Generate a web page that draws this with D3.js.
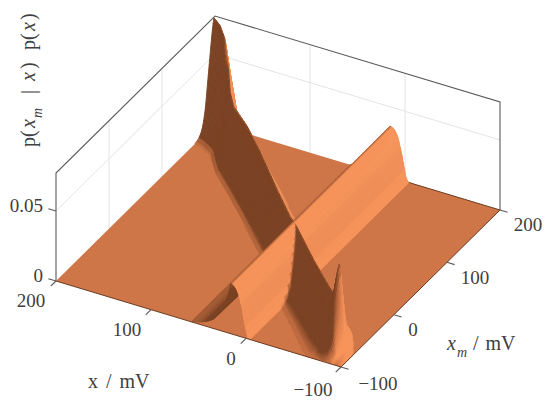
<!DOCTYPE html>
<html><head><meta charset="utf-8">
<script src="https://cdnjs.cloudflare.com/ajax/libs/d3/7.8.5/d3.min.js"></script>
<style>html,body{margin:0;background:#fff}svg{display:block}text{font-family:"Liberation Serif","DejaVu Serif",serif;fill:#404040}</style>
</head><body><svg id="c" width="550" height="403"></svg>
<script>
// axis ticks
const xTicks=[-100,0,100,200], xmTicks=[-100,0,100,200], zTicks=[0,0.05];
const xDomain=[-100,200], xmDomain=[-100,200], zDomain=[0,0.0771];
// constant-x ridge: profile across x
const stripeX=[-4,-3,-1,1,3,6,8,10,12,14,15.5,17,19,22,25,28,32,35,40,45,50,58];
const stripeZ=[0,0,.0032,.0095,.017,.0262,.0305,.0335,.0352,.036,.0362,.032,.0257,.0193,.0153,.0118,.0086,.0064,.0043,.0026,.0014,0];
// diagonal ridge: crest position, height and widths along x
const ridgeX =[-100,-92,-86,-80,-75,-70,-65,-57,-25,15,25,58,100,130,158,170,178,185,192,200];
const ridgeXm=[-84,-76,-70,-63,-58,-54,-50,-43,-16,18,29,64,105,134,160,175,186,191,195,198];
const ridgeZ =[0,.002,.014,.036,.054,.036,.027,.026,.029,.036,.033,.032,.037,.038,.036,.038,.05,.068,.074,.0765];
const ridgeLo=[13,13,13,13,13,14,15,15,13,11,10,10,9.5,9.5,9.5,9.5,9.5,9.5,9.5,9.5];
const ridgeHi=[5,5,5,5,5,5,6,7,8,8,8,9,9.5,9.5,9.5,9.5,9.5,9.5,9.5,9.5];
// ridge cross-section, offset in widths and relative height
const crossOff=[0,.25,.5,.75,1,1.25,1.5,1.75,2,2.25,2.5,2.75,3,3.5,4];
const crossVal=[1,.93,.82,.7,.58,.46,.33,.22,.145,.09,.055,.032,.017,.004,0];
const floorColor="#cf7648", darkColor="#7b4325", lightColor="#f6945b";

const svg=d3.select("#c");
const defs=svg.append("defs");
defs.append("filter").attr("id","soft").attr("x","-5%").attr("y","-5%").attr("width","110%").attr("height","110%")
 .append("feGaussianBlur").attr("stdDeviation",.5);
const corner={front:[341,367],left:[56,281],right:[500,210]};
const uS=d3.scaleLinear().domain(xDomain).range([0,1]);
const vS=d3.scaleLinear().domain(xmDomain).range([0,1]);
const zS=d3.scaleLinear().domain(zDomain).range([0,108]);
function P(x,xm,z=0){const u=uS(x),v=vS(xm);
 return [corner.front[0]+u*(corner.left[0]-corner.front[0])+v*(corner.right[0]-corner.front[0]),
         corner.front[1]+u*(corner.left[1]-corner.front[1])+v*(corner.right[1]-corner.front[1])-zS(z)];}
const stripe=d3.scaleLinear().domain(stripeX).range(stripeZ).clamp(true);
const rXm=d3.scaleLinear().domain(ridgeX).range(ridgeXm);
const rZ=d3.scaleLinear().domain(ridgeX).range(ridgeZ);
const rLo=d3.scaleLinear().domain(ridgeX).range(ridgeLo);
const rHi=d3.scaleLinear().domain(ridgeX).range(ridgeHi);
const cross=d3.scaleLinear().domain(crossOff).range(crossVal).clamp(true);
function Z(x,xm){const o=xm-rXm(x);
 return Math.max(stripe(x),rZ(x)*cross(Math.abs(o)/(o<0?rLo(x):rHi(x))));}

// walls and grid
const grid=[];
xTicks.slice(1,3).forEach(t=>grid.push([P(t,200,0),P(t,200,zDomain[1])]));
xmTicks.slice(1,3).forEach(t=>grid.push([P(200,t,0),P(200,t,zDomain[1])]));
grid.push([P(200,-100,.05),P(200,200,.05)],[P(200,200,.05),P(-100,200,.05)]);
svg.selectAll(".grid").data(grid).join("line").attr("class","grid")
 .attr("x1",d=>d[0][0]).attr("y1",d=>d[0][1]).attr("x2",d=>d[1][0]).attr("y2",d=>d[1][1])
 .attr("stroke","#e4e4e4").attr("stroke-width",1);
const box=[P(200,-100,0),P(200,-100,zDomain[1]),P(200,200,zDomain[1]),P(-100,200,zDomain[1]),P(-100,200,0)];
svg.append("path").attr("d",d3.line()(box)).attr("fill","none").attr("stroke","#5a5a5a").attr("stroke-width",1.1);

// floor
svg.append("path").attr("d",d3.line()([P(200,200),P(200,-100),P(-100,-100),P(-100,200)])+"Z").attr("fill",floorColor);

// surface: rows follow the diagonal ridge, painted back to front
const step=1.5, rowStep=1.5;
const gx=d3.range(200,-100-1e-6,-step), rows=d3.range(300,-300-1e-6,-rowStep);
const clampM=m=>Math.max(-100,Math.min(200,m));
const L=[-.72,.25,.645], K=2, slope=300/zDomain[1]/K;
const shade=d3.scaleLinear().domain([.12,.645,.84]).range([darkColor,floorColor,lightColor]).clamp(true);
function tone(dzdx,dzdm){const zu=dzdx*slope, zv=dzdm*slope;
 return Math.max(0,(-zu*L[0]-zv*L[1]+L[2])/Math.hypot(zu,zv,1));}
const cells=[], toneAt=new Map();
for(let i=0;i<gx.length-1;i++){
 const a=gx[i],b=gx[i+1],ca=rXm(a),cb=rXm(b);
 for(let j=0;j<rows.length-1;j++){
  const mA=clampM(ca+rows[j]),mB=clampM(ca+rows[j+1]),mC=clampM(cb+rows[j+1]),mD=clampM(cb+rows[j]);
  if(mA===mB&&mC===mD)continue;
  const zA=Z(a,mA),zB=Z(a,mB),zC=Z(b,mC),zD=Z(b,mD);
  if(Math.max(zA,zB,zC,zD)<2e-4)continue;
  const dm=((mA-mB)+(mD-mC))/2||1;
  const dzdm=((zA-zB)+(zD-zC))/2/dm;
  const dzdx=(((zA-zD)+(zB-zC))/2-dzdm*((mA-mD)+(mB-mC))/2)/step;
  const t=tone(dzdx,dzdm);
  toneAt.set(i*2000+j,t);
  cells.push({i,j,p:[P(a,mA,zA),P(a,mB,zB),P(b,mC,zC),P(b,mD,zD)],t});
 }
}
// even out the shade along each row
cells.forEach(c=>{const n=[c.i-1,c.i,c.i+1].map(k=>toneAt.get(k*2000+c.j)).filter(v=>v!==undefined);c.s=d3.mean(n);});
svg.append("g").attr("filter","url(#soft)").selectAll("path").data(cells).join("path")
 .attr("d",d=>d3.line()(d.p)+"Z").attr("fill",d=>shade(d.s)).attr("stroke",d=>shade(d.s)).attr("stroke-width",.9).attr("stroke-linejoin","round");

// dark edges of the sheet
const edge=(pts)=>svg.append("path").attr("d",d3.line()(pts)).attr("fill","none").attr("stroke","#6b3a20").attr("stroke-width",1);
edge([P(200,-100),P(-100,-100)]);
edge([P(-100,-100),P(-100,200)]);
edge([P(-4,200),P(-100,200)]);

// ticks
const ticks=[];
xTicks.forEach(t=>ticks.push([P(t,-100),P(t,-110)]));
xmTicks.forEach(t=>ticks.push([P(-100,t),P(-108,t)]));
zTicks.forEach(t=>ticks.push([P(200,-100,t),P(208,-100,t)]));
svg.selectAll(".tick").data(ticks).join("line").attr("class","tick")
 .attr("x1",d=>d[0][0]).attr("y1",d=>d[0][1]).attr("x2",d=>d[1][0]).attr("y2",d=>d[1][1])
 .attr("stroke","#5a5a5a").attr("stroke-width",1.1);

// labels
const fs=19;
const lab=(s,x,y,anchor="middle")=>svg.append("text").attr("x",x).attr("y",y).attr("text-anchor",anchor).attr("font-size",fs).text(s);
const fmt=t=>t<0?"\u2212"+(-t):String(t);
const xTickPos=[[313,396],[231,365],[127,336],[31,307]], xmTickPos=[[378,390],[413,336],[475,284],[528,231]];
xTicks.forEach((t,i)=>lab(fmt(t),xTickPos[i][0],xTickPos[i][1]));
xmTicks.forEach((t,i)=>lab(fmt(t),xmTickPos[i][0],xmTickPos[i][1]));
lab("0.05",43,212,"end");lab("0",43,282,"end");
svg.append("text").attr("x",88).attr("y",388).attr("font-size",20).attr("word-spacing",3).text("x / mV");
const xl=svg.append("text").attr("y",350).attr("font-size",20);
xl.append("tspan").attr("x",447).attr("font-style","italic").text("x");
xl.append("tspan").attr("x",457).attr("font-style","italic").attr("dy",7).attr("font-size",14).text("m");
xl.append("tspan").attr("x",473).attr("dy",-7).attr("word-spacing",2).text("/ mV");
const yl=svg.append("text").attr("transform","translate(35,147) rotate(-90)").attr("font-size",20);
const seg=[["p(",0,0],["x",19,1],["m",29,2],["|",53,3],["x",66,1],[")",78,0],["p(",97,0],["x",116,1],[")",127,0]];
seg.forEach(([s,x,k])=>yl.append("tspan").attr("x",x).attr("y",k==2?7:0)
 .attr("font-style",k==1||k==2?"italic":"normal").attr("font-size",k==2?14:20).text(s));
</script></body></html>
